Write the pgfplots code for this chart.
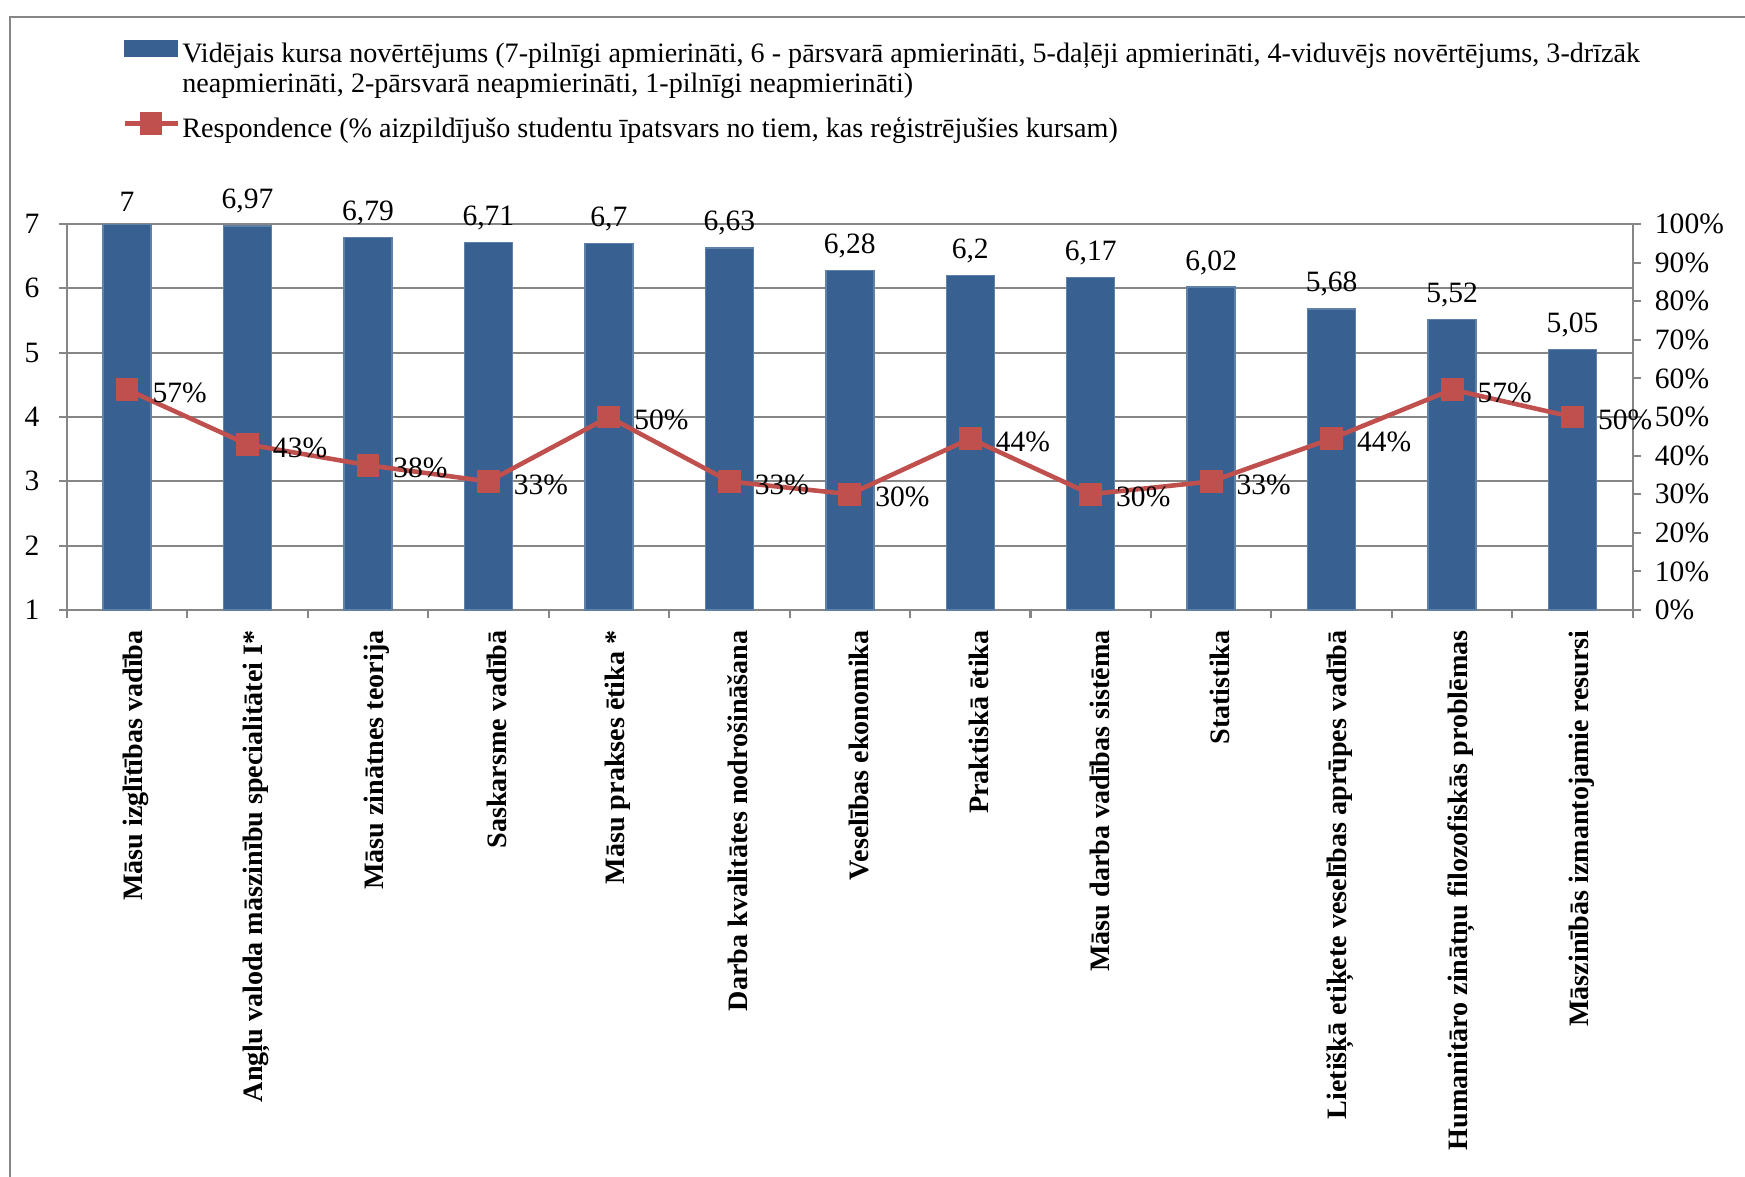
\documentclass[border=0pt]{standalone}
\usepackage{pgfplots}
\pgfplotsset{compat=1.18}
\usepackage{fontspec}
\setmainfont{Liberation Serif}
\definecolor{barblue}{RGB}{56,97,145}
\definecolor{linered}{RGB}{192,80,77}
\definecolor{axgray}{RGB}{134,134,134}
\begin{document}
\begin{tikzpicture}
\path[use as bounding box] (0,0) rectangle (17.45,11.77);
\draw[axgray, line width=0.6pt] (0.1,-0.5) -- (0.1,11.60) -- (17.9,11.60);
\begin{axis}[
  scale only axis, width=15.66cm, height=3.86cm,
  at={(0.668cm,5.67cm)}, anchor=south west,
  xmin=-0.5, xmax=12.5, ymin=1, ymax=7,
  axis x line*=bottom, axis y line*=left,
  axis line style={axgray, line width=0.6pt},
  ytick={1,...,7},
  ymajorgrids, grid style={axgray, line width=0.6pt},
  tick align=outside,
  major tick length=0.08cm, minor tick length=0.08cm,
  tick style={axgray, line width=0.6pt},
  xtick={0,...,12},
  major x tick style={draw=none},
  minor xtick={-0.5,0.5,...,12.5},
  xticklabels={Māsu izglītības vadība, Angļu valoda māszinību specialitātei I*, Māsu zinātnes teorija, Saskarsme vadībā, Māsu prakses ētika *, Darba kvalitātes nodrošināšana, Veselības ekonomika, Praktiskā ētika, Māsu darba vadības sistēma, Statistika, Lietišķā etiķete veselības aprūpes vadībā, Humanitāro zinātņu filozofiskās problēmas, Māszinībās izmantojamie resursi},
  xticklabel style={rotate=90, anchor=east, font=\bfseries\fontsize{8}{9.6}\selectfont, yshift=-2.5pt},
  yticklabel style={font=\fontsize{8.4}{10}\selectfont, xshift=-2pt},
  /pgf/number format/assume math mode=true,
  ybar, bar width=0.48cm,
  nodes near coords,
  every node near coord/.append style={font=\fontsize{8.4}{10}\selectfont, black, /pgf/number format/use comma},
]
\addplot[fill=barblue, draw=barblue!80!white] coordinates {
(0,7) (1,6.97) (2,6.79) (3,6.71) (4,6.7) (5,6.63) (6,6.28) (7,6.2) (8,6.17) (9,6.02) (10,5.68) (11,5.52) (12,5.05)};
\end{axis}
\begin{axis}[
  scale only axis, width=15.66cm, height=3.86cm,
  at={(0.668cm,5.67cm)}, anchor=south west,
  xmin=-0.5, xmax=12.5, ymin=0, ymax=100,
  axis x line=none, axis y line*=right,
  axis line style={axgray, line width=0.6pt},
  ytick={0,10,...,100},
  yticklabel={\pgfmathprintnumber{\tick}\%},
  tick align=outside, major tick length=0.08cm,
  tick style={axgray, line width=0.6pt},
  yticklabel style={font=\fontsize{8.4}{10}\selectfont, xshift=0.5pt},
  /pgf/number format/assume math mode=true,
  legend style={at={(0.035,1.493)}, anchor=north west, draw=none, fill=none,
    font=\fontsize{8}{8.5}\selectfont, row sep=10pt, inner sep=0pt},
  legend cell align=left,
]
\addlegendimage{area legend, legend image code/.code={\fill[barblue] (0cm,-0.02cm) rectangle (0.53cm,0.14cm);}}
\addlegendentry{\hspace*{-1.3pt}\begin{tabular}[t]{@{}l@{}}Vidējais kursa novērtējums (7-pilnīgi apmierināti, 6 - pārsvarā apmierināti, 5-daļēji apmierināti, 4-viduvējs novērtējums, 3-drīzāk\\ neapmierināti, 2-pārsvarā neapmierināti, 1-pilnīgi neapmierināti)\end{tabular}}
\addplot[linered, line width=1.3pt, mark=square*, mark size=2.6pt, mark options={fill=linered},
  legend image code/.code={\draw[linered, line width=1.3pt] (0cm,0.06cm) -- (0.53cm,0.06cm); \fill[linered] (0.175cm,-0.03cm) rectangle (0.355cm,0.15cm);},
  nodes near coords={\pgfmathprintnumber[fixed,precision=0]{\pgfplotspointmeta}\%},
  every node near coord/.append style={font=\fontsize{8.4}{10}\selectfont, black, anchor=west, xshift=0.115cm, yshift=-0.03cm},
] coordinates {
(0,57.1) (1,42.9) (2,37.5) (3,33.3) (4,50) (5,33.3) (6,30) (7,44.4) (8,30) (9,33.3) (10,44.4) (11,57.1) (12,50)};
\addlegendentry{\hspace*{-1.3pt}Respondence (\% aizpildījušo studentu īpatsvars no tiem, kas reģistrējušies kursam)}
\end{axis}
\end{tikzpicture}
\end{document}
